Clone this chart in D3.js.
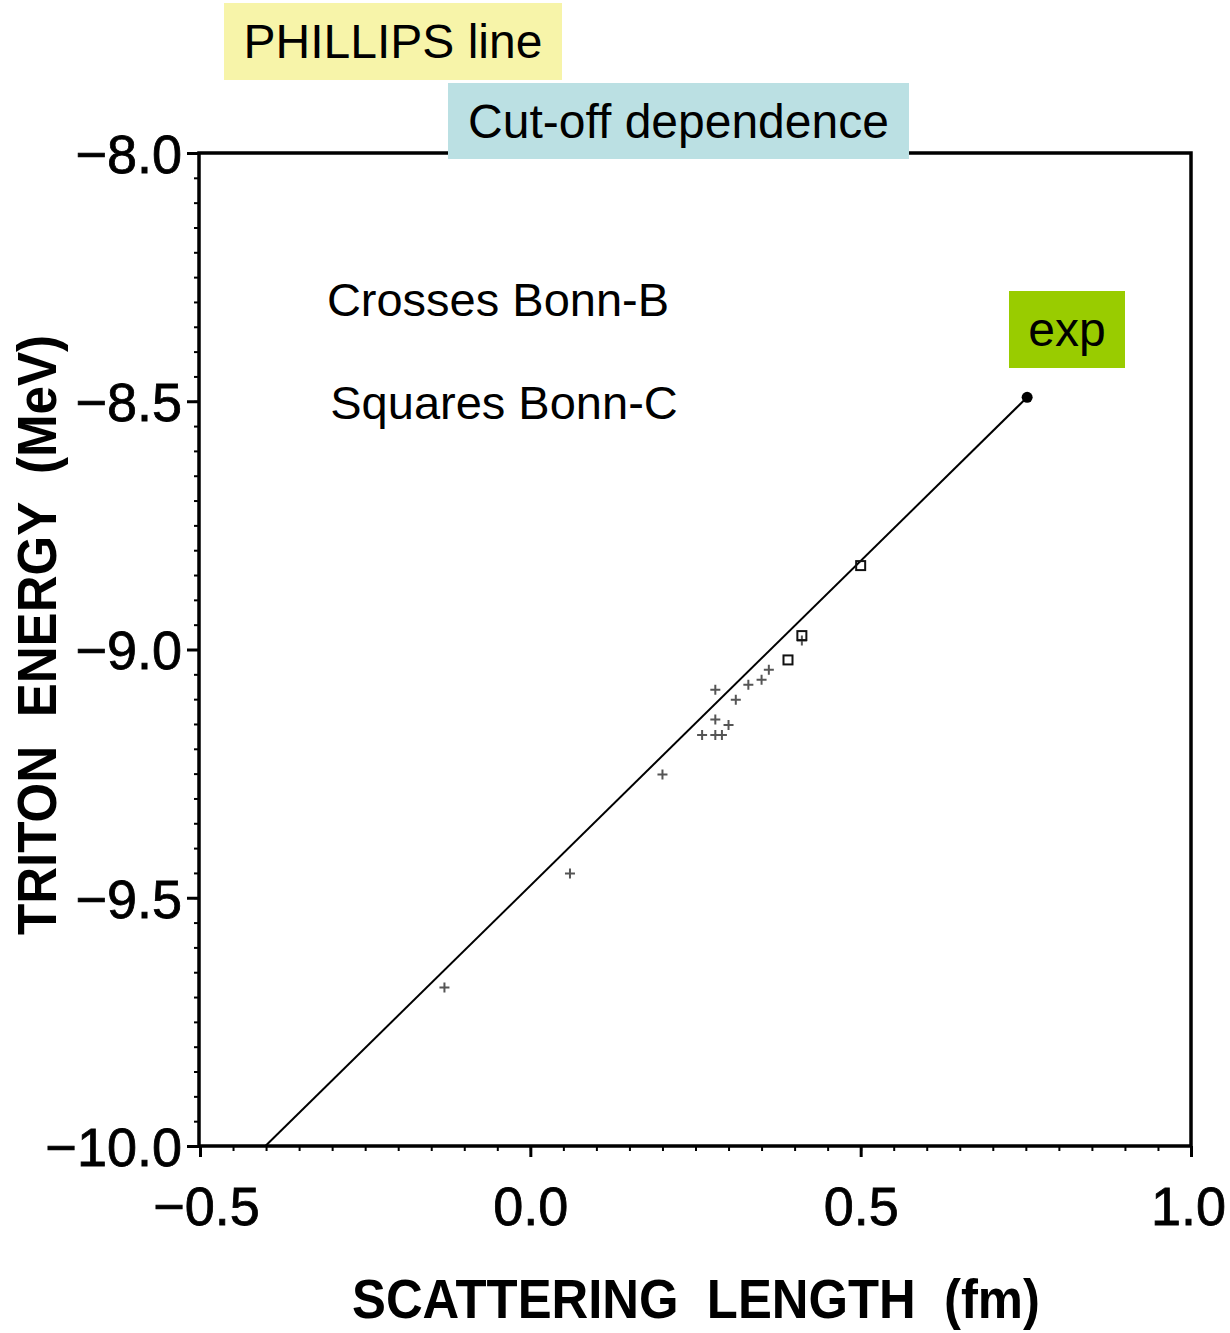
<!DOCTYPE html>
<html>
<head>
<meta charset="utf-8">
<script src="https://cdn.jsdelivr.net/npm/d3@7"></script>
<style>
  body { margin: 0; background: #fff; }
  text { font-family: "Liberation Sans", Arial, sans-serif; fill: #000; }
</style>
</head>
<body>
<div id="chart"></div>
<script>
'use strict';
// Bonn-B (crosses): scattering length (fm), triton energy (MeV)
var crossX = [0.411, 0.361, 0.350, 0.330, 0.311, 0.280, 0.280, 0.300, 0.260, 0.280, 0.290, 0.200, 0.060, -0.130];
var crossY = [-8.982, -9.041, -9.061, -9.071, -9.101, -9.081, -9.141, -9.152, -9.172, -9.172, -9.172, -9.252, -9.451, -9.681];
// Bonn-C (squares)
var squareX = [0.500, 0.411, 0.390];
var squareY = [-8.831, -8.972, -9.021];
// experimental point and Phillips line ends
var expX = [0.752];
var expY = [-8.492];
var lineX = [-0.401, 0.752];
var lineY = [-10.0, -8.492];

var xTicks = [-0.5, 0.0, 0.5, 1.0];
var yTicks = [-8.0, -8.5, -9.0, -9.5, -10.0];

var width = 1230, height = 1333;
var margin = {top: 153, left: 199, right: 38, bottom: 187};
var innerH = height - margin.top - margin.bottom;

var x = d3.scaleLinear().domain([-0.5, 1.0]).range([1, 992]);
var y = d3.scaleLinear().domain([-8.0, -10.0]).range([0, innerH]);

var svg = d3.select("#chart").append("svg")
    .attr("width", width)
    .attr("height", height);

var g = svg.append("g")
    .attr("transform", "translate(" + margin.left + "," + margin.top + ")");

var fmt = function (d) {
    return d3.format(".1f")(d).replace("-", "\u2212");
};

// minor ticks
var xMinor = d3.range(-0.5, 1.0001, 0.05);
var yMinor = d3.range(-8.0, -10.0001, -0.05);

g.append("g")
    .attr("transform", "translate(0," + innerH + ")")
    .call(d3.axisBottom(x).tickValues(xMinor).tickSize(5).tickFormat(""))
    .call(function (a) { a.select(".domain").remove(); a.selectAll("line").attr("stroke-width", 2); });

g.append("g")
    .call(d3.axisLeft(y).tickValues(yMinor).tickSize(5).tickFormat(""))
    .call(function (a) { a.select(".domain").remove(); a.selectAll("line").attr("stroke-width", 2); });

// major ticks + labels
var xAxis = g.append("g")
    .attr("transform", "translate(0," + innerH + ")")
    .call(d3.axisBottom(x).tickValues(xTicks).tickSize(11).tickPadding(30).tickFormat(fmt));
xAxis.select(".domain").remove();
xAxis.selectAll("line").attr("stroke-width", 3);
xAxis.selectAll("text")
    .style("font-size", "54px")
    .attr("stroke", "#000")
    .attr("stroke-width", 0.8)
    .attr("dy", "0.71em")
    .attr("dx", function (d) { return d < 0 ? 6 : (d >= 1 ? -3 : 0); });

var yAxis = g.append("g")
    .call(d3.axisLeft(y).tickValues(yTicks).tickSize(12).tickPadding(5).tickFormat(fmt));
yAxis.select(".domain").remove();
yAxis.selectAll("line").attr("stroke-width", 3);
yAxis.selectAll("text")
    .style("font-size", "54px")
    .attr("stroke", "#000")
    .attr("stroke-width", 0.8)
    .attr("dy", "0.36em");

// frame
g.append("rect")
    .attr("x", 0).attr("y", 0)
    .attr("width", x(1.0)).attr("height", innerH)
    .attr("fill", "none")
    .attr("stroke", "#000")
    .attr("stroke-width", 3.5);

// phillips line
var line = d3.line()
    .x(function (d) { return x(d[0]); })
    .y(function (d) { return y(d[1]); });
g.append("path")
    .datum(d3.zip(lineX, lineY))
    .attr("d", line)
    .attr("fill", "none")
    .attr("stroke", "#000")
    .attr("stroke-width", 2);

// crosses
g.append("g").selectAll("path")
    .data(d3.zip(crossX, crossY))
    .enter().append("path")
    .attr("transform", function (d) { return "translate(" + x(d[0]) + "," + y(d[1]) + ")"; })
    .attr("d", "M-5,0H5M0,-5V5")
    .attr("stroke", "#555")
    .attr("stroke-width", 2)
    .attr("fill", "none");

// squares
g.append("g").selectAll("rect")
    .data(d3.zip(squareX, squareY))
    .enter().append("rect")
    .attr("x", function (d) { return x(d[0]) - 4.5; })
    .attr("y", function (d) { return y(d[1]) - 4.5; })
    .attr("width", 9).attr("height", 9)
    .attr("fill", "none")
    .attr("stroke", "#111")
    .attr("stroke-width", 2);

// experiment
g.append("g").selectAll("circle")
    .data(d3.zip(expX, expY))
    .enter().append("circle")
    .attr("cx", function (d) { return x(d[0]); })
    .attr("cy", function (d) { return y(d[1]); })
    .attr("r", 5.5)
    .attr("fill", "#000");

// boxed labels
function boxLabel(txt, bx, by, bw, bh, fill, size) {
    svg.append("rect")
        .attr("x", bx).attr("y", by)
        .attr("width", bw).attr("height", bh)
        .attr("fill", fill);
    svg.append("text")
        .attr("x", bx + bw / 2).attr("y", by + bh / 2)
        .attr("text-anchor", "middle")
        .attr("dy", "0.35em")
        .style("font-size", size + "px")
        .text(txt);
}
boxLabel("PHILLIPS line", 224, 3, 338, 77, "#f7f4a9", 48);
boxLabel("Cut-off dependence", 448, 83, 461, 76, "#bbe0e3", 48);
boxLabel("exp", 1009, 291, 116, 77, "#99cc00", 48);

svg.append("text")
    .attr("x", 498).attr("y", 316)
    .attr("text-anchor", "middle")
    .style("font-size", "47px")
    .text("Crosses Bonn-B");
svg.append("text")
    .attr("x", 504).attr("y", 419)
    .attr("text-anchor", "middle")
    .style("font-size", "47px")
    .text("Squares Bonn-C");

// axis titles
svg.append("text")
    .attr("x", 352).attr("y", 1318)
    .attr("textLength", 688)
    .attr("lengthAdjust", "spacingAndGlyphs")
    .style("font-size", "56px")
    .style("font-weight", "bold")
    .attr("xml:space", "preserve")
    .text("SCATTERING  LENGTH  (fm)");

svg.append("text")
    .attr("transform", "translate(56,935) rotate(-90)")
    .attr("textLength", 600)
    .attr("lengthAdjust", "spacingAndGlyphs")
    .style("font-size", "56px")
    .style("font-weight", "bold")
    .attr("xml:space", "preserve")
    .text("TRITON  ENERGY  (MeV)");
</script>
</body>
</html>
